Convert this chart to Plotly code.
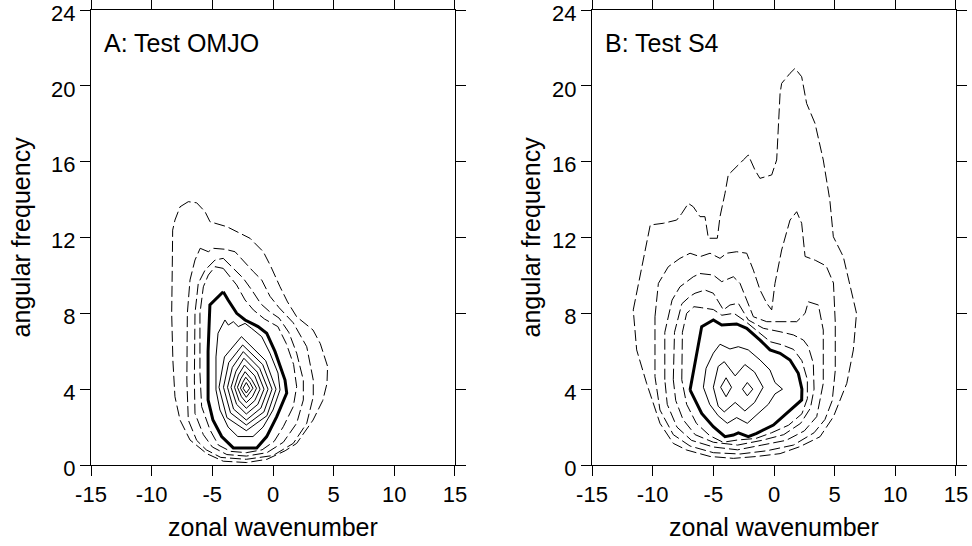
import plotly.graph_objects as go

# ---------------- data: contour polylines (zonal wavenumber, angular frequency) ----------------
# Panel A: Test OMJO
a_dash1 = [(-6.98, 13.89), (-7.66, 13.62), (-8.08, 12.92), (-8.27, 12.39), (-8.3, 10.5), (-8.35, 8.0),
           (-8.25, 5.5), (-8.08, 3.6), (-7.66, 2.37), (-6.84, 1.32), (-5.46, 0.6), (-4.1, 0.2), (-2.17, 0.13),
           (-0.5, 0.3), (1.0, 0.75), (1.95, 1.14), (3.3, 2.37), (4.1, 3.4), (4.45, 4.3), (4.5, 5.2), (3.9, 6.4),
           (3.3, 7.12), (1.95, 7.82), (1.2, 8.6), (0.58, 9.4), (-0.2, 10.5), (-0.8, 11.25), (-1.9, 11.96),
           (-3.8, 12.57), (-5.19, 12.83), (-5.6, 13.36), (-6.29, 13.83)]
a_dash2 = [(-6.0, 11.43), (-5.33, 11.25), (-4.92, 11.43), (-3.96, 11.38), (-3.13, 11.25), (-2.3, 10.64),
           (-1.62, 10.2), (-0.93, 9.76), (-0.25, 8.9), (0.5, 8.3), (1.67, 7.5), (2.78, 6.24), (3.32, 4.48),
           (3.32, 3.6), (2.78, 2.2), (1.67, 1.14), (0.0, 0.5), (-2.2, 0.3), (-4.3, 0.4), (-5.5, 0.8),
           (-6.29, 1.3), (-6.98, 2.37), (-7.1, 4.48), (-7.06, 8.0), (-6.84, 9.76), (-6.43, 10.81)]
a_dash3 = [(-4.1, 10.9), (-3.13, 10.28), (-2.45, 9.85), (-1.75, 9.23), (-1.0, 8.5), (-0.3, 8.1), (0.5, 7.75),
           (1.3, 7.0), (1.95, 5.9), (2.5, 4.48), (2.5, 3.43), (1.95, 2.2), (0.85, 1.2), (-0.5, 0.65),
           (-2.2, 0.47), (-3.8, 0.55), (-5.0, 0.95), (-5.74, 1.6), (-6.43, 2.72), (-6.48, 4.48), (-6.43, 8.0),
           (-6.16, 9.58), (-5.6, 10.28), (-4.78, 10.81)]
a_dash4 = [(-4.1, 10.37), (-3.0, 9.5), (-2.3, 8.7), (-1.62, 8.18), (-0.7, 7.7), (0.4, 7.3), (1.1, 6.4),
           (1.7, 5.3), (1.95, 4.13), (1.67, 3.08), (0.85, 2.02), (0.1, 1.25), (-0.9, 0.8), (-2.2, 0.65),
           (-3.5, 0.72), (-4.5, 1.05), (-5.19, 1.85), (-5.88, 3.08), (-6.02, 4.84), (-6.02, 8.0),
           (-5.74, 9.4), (-5.33, 10.02), (-4.78, 10.46)]
a_thick = [(-4.1, 9.14), (-3.7, 8.7), (-2.99, 8.0), (-2.3, 7.65), (-1.23, 7.3), (-0.52, 6.95), (0.17, 5.98),
           (0.99, 4.48), (1.13, 3.8), (0.31, 2.55), (-0.52, 1.5), (-1.34, 0.9), (-3.27, 0.9), (-4.23, 1.5),
           (-4.95, 2.37), (-5.35, 3.43), (-5.35, 6.0), (-5.2, 8.44)]
a_thin1 = [(-3.96, 7.65), (-4.53, 6.95), (-4.7, 5.7), (-4.7, 3.96), (-4.37, 2.9), (-3.7, 2.0), (-2.9, 1.5),
           (-1.65, 1.5), (-0.82, 2.0), (0.0, 2.9), (0.58, 3.96), (0.41, 4.85), (-0.25, 5.9), (-0.93, 6.77),
           (-1.75, 7.2), (-2.3, 7.47), (-2.86, 7.3), (-3.27, 7.56), (-3.68, 7.38)]
a_thin2 = [(-2.6, 6.77), (-0.6, 5.5), (0.25, 4.0), (-0.5, 2.6), (-2.2, 1.81), (-3.8, 2.5), (-4.45, 4.1), (-4.0, 5.7)]
a_thin3 = [(-2.5, 6.33), (-0.85, 5.3), (-0.08, 4.0), (-0.75, 2.8), (-2.2, 2.11), (-3.5, 2.75), (-4.08, 4.1), (-3.65, 5.4)]
a_thin4 = [(-2.45, 5.98), (-1.1, 5.1), (-0.41, 4.0), (-1.0, 3.0), (-2.2, 2.37), (-3.25, 2.95), (-3.75, 4.1), (-3.35, 5.15)]
a_thin5 = [(-2.4, 5.63), (-1.3, 4.9), (-0.74, 4.0), (-1.25, 3.2), (-2.2, 2.69), (-3.0, 3.2), (-3.46, 4.1), (-3.05, 4.95)]
a_thin6 = [(-2.35, 5.27), (-1.5, 4.7), (-1.07, 4.0), (-1.5, 3.4), (-2.2, 2.99), (-2.8, 3.4), (-3.17, 4.1), (-2.85, 4.75)]
a_thin7 = [(-2.3, 4.92), (-1.75, 4.5), (-1.36, 4.05), (-1.7, 3.6), (-2.2, 3.29), (-2.6, 3.6), (-2.93, 4.1), (-2.65, 4.55)]
a_thin8 = [(-2.25, 4.63), (-1.9, 4.35), (-1.65, 4.05), (-1.9, 3.8), (-2.2, 3.57), (-2.45, 3.8), (-2.68, 4.05), (-2.5, 4.35)]
a_thin9 = [(-2.2, 4.35), (-1.92, 4.05), (-2.2, 3.8), (-2.47, 4.05)]

# Panel B: Test S4
b_dash1 = [(-11.6, 8.18), (-10.2, 12.66), (-9.12, 12.75), (-8.02, 12.92), (-7.6, 13.27), (-7.06, 13.8),
           (-6.65, 13.62), (-6.1, 13.1), (-5.69, 13.1), (-5.41, 11.96), (-4.67, 11.96), (-4.45, 13.1),
           (-4.04, 14.33), (-3.77, 15.3), (-2.53, 16.09), (-2.12, 16.35), (-1.57, 15.56), (-1.16, 15.12),
           (-0.19, 15.3), (0.22, 16.09), (0.5, 19.6), (0.63, 20.13), (1.32, 20.66), (1.73, 20.92),
           (2.28, 20.48), (2.69, 19.07), (3.38, 18.02), (4.06, 16.09), (4.6, 13.98), (4.89, 12.04),
           (5.71, 10.99), (6.8, 8.0), (6.54, 6.07), (6.0, 4.31), (4.9, 2.55), (3.79, 1.49), (2.14, 0.97),
           (0.5, 0.6), (-1.43, 0.45), (-3.35, 0.35), (-5.27, 0.45), (-7.2, 0.79), (-8.3, 1.14), (-9.4, 2.2),
           (-10.5, 4.31), (-11.32, 6.07)]
b_dash2 = [(-9.81, 7.82), (-9.53, 9.58), (-8.71, 10.46), (-7.75, 10.9), (-6.92, 11.17), (-6.1, 10.99),
           (-5.27, 11.17), (-4.45, 10.9), (-3.9, 11.17), (-3.08, 11.25), (-2.25, 11.17), (-1.7, 10.28),
           (-1.15, 9.23), (-0.6, 8.53), (-0.19, 8.18), (0.08, 9.58), (0.63, 11.34), (1.32, 12.92),
           (1.87, 13.36), (2.28, 12.75), (2.56, 11.0), (3.4, 10.8), (4.3, 10.5), (4.9, 9.6), (5.05, 7.5),
           (5.05, 5.0), (4.8, 3.4), (4.2, 2.4), (3.3, 1.7), (1.6, 1.05), (-0.6, 0.75), (-2.8, 0.58),
           (-5.0, 0.65), (-6.92, 1.0), (-8.3, 1.6), (-9.4, 2.9), (-9.81, 4.66)]
b_dash3 = [(-9.0, 4.5), (-9.0, 7.0), (-8.4, 8.7), (-7.75, 9.4), (-6.65, 9.93), (-6.1, 10.1), (-5.0, 10.02),
           (-4.31, 9.67), (-3.35, 9.93), (-2.8, 9.58), (-2.25, 8.7), (-1.7, 7.82), (-0.6, 7.56), (0.5, 7.56),
           (1.87, 7.56), (2.56, 8.0), (2.83, 8.61), (3.66, 8.44), (4.06, 7.12), (4.06, 4.31), (3.52, 2.55),
           (2.5, 1.8), (1.0, 1.3), (-1.0, 1.05), (-3.0, 0.8), (-5.0, 0.95), (-6.8, 1.3), (-8.0, 2.0), (-8.8, 3.2)]
b_dash4 = [(-8.3, 4.5), (-8.2, 7.0), (-7.6, 8.5), (-6.92, 8.9), (-6.51, 9.06), (-5.69, 9.23), (-5.0, 9.06),
           (-4.17, 8.18), (-3.63, 8.44), (-2.94, 8.53), (-2.12, 7.65), (-0.88, 7.21), (0.5, 7.03), (1.6, 6.86),
           (2.42, 6.59), (2.83, 6.24), (3.24, 5.36), (3.3, 4.0), (3.0, 3.0), (2.2, 2.2), (0.8, 1.6),
           (-1.0, 1.3), (-3.0, 1.05), (-5.0, 1.2), (-6.5, 1.6), (-7.5, 2.4), (-8.1, 3.4)]
b_dash5 = [(-7.6, 4.5), (-7.55, 7.0), (-7.2, 8.0), (-6.6, 8.35), (-6.0, 8.3), (-5.0, 8.2), (-4.3, 7.9),
           (-3.3, 8.0), (-2.4, 7.6), (-1.3, 7.0), (-0.3, 6.5), (0.6, 6.35), (1.6, 6.1), (2.3, 5.5),
           (2.75, 4.5), (2.75, 3.5), (2.3, 2.7), (1.2, 2.1), (-0.2, 1.7), (-1.5, 1.4), (-3.0, 1.32),
           (-4.2, 1.2), (-5.3, 1.55), (-6.4, 2.2), (-7.2, 3.2)]
b_thick = [(-6.92, 3.96), (-5.96, 7.3), (-5.0, 7.65), (-4.31, 7.38), (-3.08, 7.44), (-2.25, 7.21),
           (-1.15, 6.59), (-0.33, 6.07), (0.5, 5.89), (1.32, 5.54), (2.0, 4.84), (2.3, 4.0), (2.28, 3.43),
           (1.05, 2.72), (-0.05, 2.11), (-1.43, 1.67), (-2.12, 1.49), (-2.94, 1.7), (-3.35, 1.58),
           (-4.04, 1.49), (-5.0, 2.02), (-5.96, 2.72)]
b_thin1 = [(-5.82, 4.1), (-5.6, 5.1), (-5.0, 5.9), (-4.45, 6.37), (-3.63, 6.12), (-2.94, 6.24), (-2.12, 6.07),
           (-1.15, 5.54), (-0.33, 5.01), (0.08, 4.35), (0.7, 4.0), (0.08, 3.75), (-0.47, 3.2), (-1.4, 2.65),
           (-2.2, 2.2), (-3.08, 2.5), (-3.85, 2.2), (-4.6, 2.6), (-5.3, 3.2)]
b_thin2 = [(-5.0, 4.1), (-4.6, 5.2), (-4.1, 5.45), (-3.2, 4.7), (-2.4, 5.3), (-1.6, 4.9), (-0.9, 4.1),
           (-1.6, 3.3), (-2.4, 2.85), (-3.2, 3.3), (-4.1, 2.8), (-4.6, 3.1)]
b_thin3 = [(-4.4, 4.1), (-3.95, 4.6), (-3.5, 4.1), (-3.95, 3.6)]
b_thin4 = [(-2.6, 4.0), (-2.2, 4.35), (-1.75, 4.0), (-2.2, 3.65)]

x_ticks = [-15, -10, -5, 0, 5, 10, 15]
x_tick_labels = ["-15", "-10", "-5", "0", "5", "10", "15"]
y_ticks = [0, 4, 8, 12, 16, 20, 24]
y_tick_labels = ["0", "4", "8", "12", "16", "20", "24"]
panel_labels = ["A: Test OMJO", "B: Test S4"]
x_title = "zonal wavenumber"
y_title = "angular frequency"

# ---------------- figure ----------------
DASH = dict(color="black", width=1, dash="11px,4px")
THIN = dict(color="black", width=1)
THICK = dict(color="black", width=3)

fig = go.Figure()


def add(pts, xa, ya, style):
    xs = [p[0] for p in pts] + [pts[0][0]]
    ys = [p[1] for p in pts] + [pts[0][1]]
    fig.add_trace(go.Scatter(x=xs, y=ys, mode="lines", line=style, xaxis=xa, yaxis=ya,
                             showlegend=False, hoverinfo="skip"))


for c in [a_dash1, a_dash2, a_dash3, a_dash4]:
    add(c, "x", "y", DASH)
add(a_thick, "x", "y", THICK)
for c in [a_thin1, a_thin2, a_thin3, a_thin4, a_thin5, a_thin6, a_thin7, a_thin8, a_thin9]:
    add(c, "x", "y", THIN)

for c in [b_dash1, b_dash2, b_dash3, b_dash4, b_dash5]:
    add(c, "x2", "y2", DASH)
add(b_thick, "x2", "y2", THICK)
for c in [b_thin1, b_thin2, b_thin3, b_thin4]:
    add(c, "x2", "y2", THIN)

FAMILY = "Arial, Liberation Sans, sans-serif"
TICK_FONT = dict(family=FAMILY, size=22, color="black")
TEXT_FONT = dict(family=FAMILY, size=25, color="black")

axis_common = dict(showline=True, linecolor="black", linewidth=1, mirror="ticks", ticks="outside",
                   ticklen=10, tickwidth=1, tickcolor="black", showgrid=False, zeroline=False,
                   tickfont=TICK_FONT, automargin=False, ticklabeloverflow="allow")

fig.update_layout(
    width=972, height=546,
    margin=dict(l=91, r=16, t=10, b=81, autoexpand=False),
    paper_bgcolor="white", plot_bgcolor="white",
    font=TEXT_FONT,
    xaxis=dict(domain=[0, 0.4208], range=[-15, 15], tickvals=x_ticks, ticktext=x_tick_labels,
               anchor="y", **axis_common),
    yaxis=dict(domain=[0, 1], range=[0, 24], tickvals=y_ticks, ticktext=y_tick_labels,
               anchor="x", ticklabelshift=3, **axis_common),
    xaxis2=dict(domain=[0.5792, 1], range=[-15, 15], tickvals=x_ticks, ticktext=x_tick_labels,
                anchor="y2", **axis_common),
    yaxis2=dict(domain=[0, 1], range=[0, 24], tickvals=y_ticks, ticktext=y_tick_labels,
                anchor="x2", ticklabelshift=3, **axis_common),
)

ann = []
for i, (xr, yr) in enumerate([("x", "y"), ("x2", "y2")]):
    ann.append(dict(text=panel_labels[i], xref=xr, yref=yr, x=-14.1, y=22.25, xanchor="left",
                    yanchor="middle", showarrow=False, font=TEXT_FONT))
    ann.append(dict(text=x_title, xref=xr + " domain", yref=yr + " domain", x=0.5, y=0,
                    yshift=-62, xanchor="center", yanchor="middle", showarrow=False, font=TEXT_FONT))
ann.append(dict(text=y_title, xref="x domain", yref="y domain", x=0, y=0.5, xshift=-71,
                textangle=-90, xanchor="center", yanchor="middle", showarrow=False, font=TEXT_FONT))
ann.append(dict(text=y_title, xref="x2 domain", yref="y2 domain", x=0, y=0.5, xshift=-62,
                textangle=-90, xanchor="center", yanchor="middle", showarrow=False, font=TEXT_FONT))
fig.update_layout(annotations=ann)

fig.write_html("out.html", config={"displayModeBar": False},
               post_script="document.body.style.margin='0';document.body.style.overflow='hidden';")
